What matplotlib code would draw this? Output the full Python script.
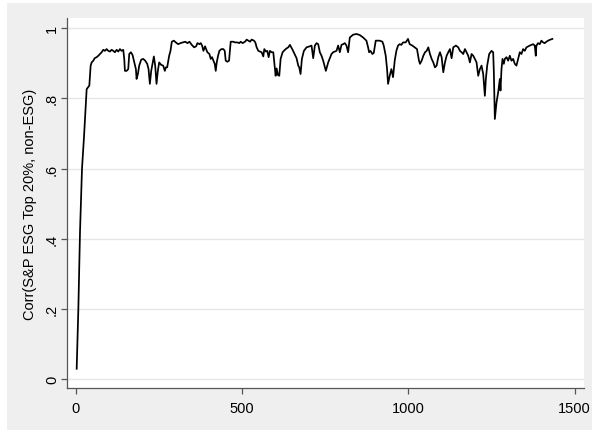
import numpy as np
import matplotlib.pyplot as plt
from matplotlib.patches import Rectangle

plt.rcParams['font.family'] = ['Liberation Sans', 'DejaVu Sans']

# rolling correlation, S&P ESG top 20% vs non-ESG
obs = [3, 8, 13, 19, 25, 29, 33, 37, 41, 45, 48, 53, 57, 63, 68, 73, 78, 83, 88, 93,
       98, 103, 108, 113, 118, 123, 128, 133, 138, 143, 146, 148, 153, 158, 161, 166, 171, 175, 181, 183,
       187, 191, 197, 203, 209, 215, 219, 223, 227, 231, 235, 239, 243, 247, 251, 257, 263, 268, 271, 275,
       281, 285, 289, 295, 301, 308, 315, 322, 329, 336, 342, 349, 356, 362, 366, 372, 376, 380, 384, 389,
       392, 396, 402, 406, 410, 414, 418, 421, 424, 428, 432, 438, 444, 448, 451, 456, 461, 464, 466, 474,
       479, 486, 492, 496, 502, 509, 514, 519, 524, 529, 536, 540, 544, 549, 554, 559, 564, 567, 572, 576,
       580, 584, 589, 594, 598, 601, 604, 608, 612, 616, 622, 629, 634, 639, 644, 648, 652, 658, 664, 669,
       672, 676, 680, 686, 694, 704, 709, 714, 719, 724, 729, 734, 739, 744, 752, 759, 769, 774, 784, 789,
       794, 799, 804, 809, 814, 819, 824, 834, 844, 854, 864, 874, 879, 882, 886, 892, 896, 902, 914, 922,
       926, 932, 936, 939, 944, 949, 954, 959, 964, 969, 974, 979, 984, 992, 999, 1004, 1012, 1019, 1026, 1032,
       1035, 1040, 1045, 1050, 1055, 1060, 1065, 1070, 1075, 1080, 1085, 1090, 1095, 1100, 1105, 1110, 1115, 1120, 1125, 1130,
       1135, 1143, 1150, 1155, 1160, 1165, 1170, 1175, 1180, 1185, 1190, 1195, 1200, 1205, 1210, 1215, 1220, 1225, 1230, 1233,
       1237, 1243, 1250, 1255, 1257, 1260, 1265, 1270, 1275, 1277, 1280, 1283, 1287, 1290, 1295, 1300, 1305, 1310, 1315, 1320,
       1325, 1330, 1335, 1340, 1345, 1350, 1355, 1365, 1375, 1380, 1383, 1385, 1390, 1395, 1400, 1405, 1410, 1415, 1420, 1427,
       1433]
corr = [.03, .20, .42, .60, .69, .76, .826, .831, .836, .893, .902, .907, .914, .917, .921, .926, .931, .938, .935, .940,
        .935, .933, .938, .935, .931, .938, .933, .940, .935, .938, .912, .878, .878, .883, .926, .931, .923, .907, .883, .855,
        .869, .893, .910, .912, .907, .898, .883, .841, .878, .898, .919, .893, .841, .878, .902, .895, .893, .878, .888, .888,
        .921, .935, .961, .964, .959, .954, .957, .959, .961, .957, .961, .952, .945, .948, .957, .954, .957, .950, .935, .948,
        .940, .931, .926, .912, .917, .907, .898, .878, .902, .921, .935, .940, .940, .935, .907, .904, .907, .940, .961, .961,
        .959, .959, .957, .961, .957, .961, .967, .964, .961, .967, .964, .959, .945, .935, .933, .931, .919, .940, .933, .935,
        .917, .935, .931, .931, .893, .864, .885, .866, .864, .912, .931, .938, .942, .945, .952, .945, .938, .926, .914, .893,
        .888, .869, .912, .935, .945, .948, .950, .914, .950, .957, .954, .931, .921, .907, .878, .902, .926, .931, .935, .950,
        .931, .952, .954, .957, .950, .931, .973, .981, .983, .980, .973, .964, .945, .931, .935, .926, .929, .964, .964, .961,
        .950, .921, .883, .841, .864, .883, .860, .907, .935, .950, .954, .952, .959, .959, .969, .954, .950, .945, .940, .907,
        .898, .907, .921, .931, .935, .945, .926, .912, .902, .888, .893, .917, .931, .917, .874, .902, .921, .931, .940, .914,
        .945, .950, .945, .935, .931, .926, .940, .931, .921, .902, .926, .921, .912, .902, .864, .883, .893, .869, .807, .855,
        .893, .926, .935, .931, .874, .741, .788, .817, .855, .822, .883, .912, .898, .912, .917, .907, .921, .907, .912, .898,
        .893, .912, .931, .926, .940, .935, .945, .950, .954, .950, .921, .950, .957, .954, .964, .959, .957, .961, .964, .967,
        .969]

xticks = [0, 500, 1000, 1500]
yticks = [0, .2, .4, .6, .8, 1]
ytick_labels = ['0', '.2', '.4', '.6', '.8', '1']

bg = '#efefef'
fig = plt.figure(figsize=(5.92, 4.31), dpi=100, facecolor='white')
fig.patches.append(Rectangle((7 / 592, 0), 1, 1 - 4 / 431, transform=fig.transFigure,
                             facecolor=bg, edgecolor='none', zorder=-10))

ax = fig.add_axes((66.7 / 592, 41.7 / 431, 517.3 / 592, 370.3 / 431))
ax.set_facecolor('white')

ax.plot(obs, corr, color='black', lw=1.25, zorder=3)

ax.set_xlim(-27, 1528)
ax.set_ylim(-0.0256, 1.0285)
ax.set_xticks(xticks)
ax.set_yticks(yticks)
ax.set_yticklabels(ytick_labels)

ax.grid(axis='y', color='#e6e6e6', lw=1.0)
ax.set_axisbelow(True)
for side in ['top', 'right']:
    ax.spines[side].set_visible(False)
for side in ['left', 'bottom']:
    ax.spines[side].set_color('#555555')
    ax.spines[side].set_linewidth(0.9)

ax.tick_params(axis='both', direction='out', length=4, width=0.9, color='#555555',
               labelsize=10.5, labelcolor='black')
ax.tick_params(axis='x', pad=5)
ax.tick_params(axis='y', pad=1.5)
for lab in ax.get_yticklabels():
    lab.set_rotation(90)
    lab.set_va('center')

ax.set_ylabel('Corr(S&P ESG Top 20%, non-ESG)', fontsize=10.5)
ax.yaxis.set_label_coords(-0.057, 0.5)

fig.savefig('out.png', dpi=100, facecolor=fig.get_facecolor())
